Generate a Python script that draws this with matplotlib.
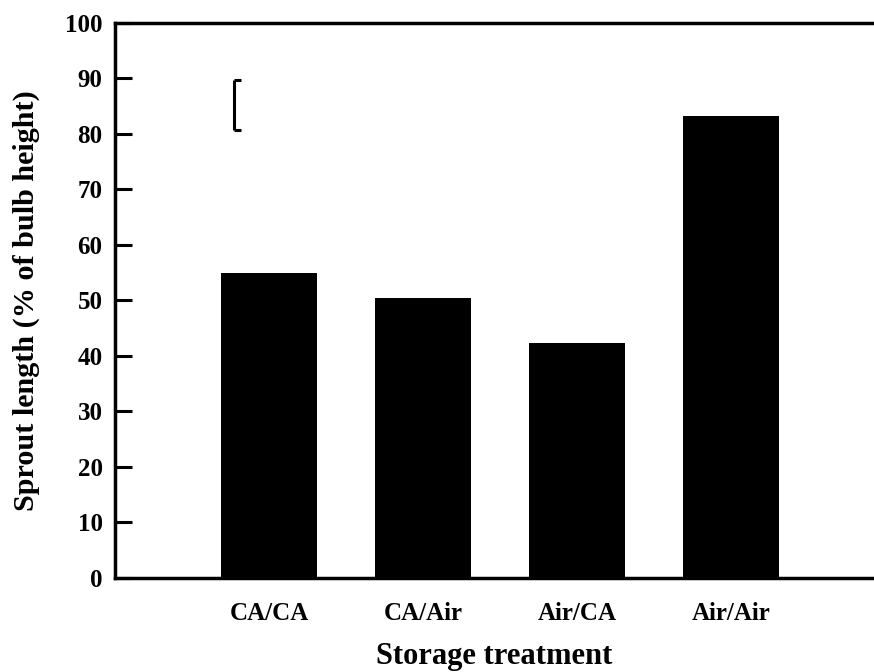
import matplotlib
matplotlib.use("Agg")
import matplotlib.pyplot as plt

categories = ["CA/CA", "CA/Air", "Air/CA", "Air/Air"]
sprout_length = [55.0, 50.5, 42.3, 83.2]
lsd_low, lsd_high = 80.7, 89.8
yticks = [0, 10, 20, 30, 40, 50, 60, 70, 80, 90, 100]

plt.rcParams["font.family"] = ["Liberation Serif", "DejaVu Serif"]
plt.rcParams["font.weight"] = "bold"

fig = plt.figure(figsize=(8.74, 6.72), dpi=100)
ax = fig.add_axes([0.1316, 0.1399, 0.8684, 0.8259])

x = list(range(1, len(categories) + 1))
ax.bar(x, sprout_length, width=0.62, color="black", edgecolor="none")

# LSD bracket
bx = 0.77
ax.plot([bx, bx], [lsd_low, lsd_high], color="black", lw=2.2, solid_capstyle="butt")
ax.plot([bx, bx + 0.05], [lsd_high, lsd_high], color="black", lw=2.2, solid_capstyle="butt")
ax.plot([bx, bx + 0.05], [lsd_low, lsd_low], color="black", lw=2.2, solid_capstyle="butt")

ax.set_xlim(0, 4.93)
ax.set_ylim(0, 100)
ax.set_yticks(yticks)
ax.set_yticklabels([str(t) for t in yticks], fontsize=18, fontweight="bold")
ax.set_xticks(x)
ax.set_xticklabels(categories, fontsize=18, fontweight="bold")
ax.tick_params(axis="y", direction="in", length=12, width=2.2, pad=9)
ax.tick_params(axis="x", length=0, pad=17)

for side in ("left", "bottom", "top"):
    ax.spines[side].set_linewidth(2.5)
ax.spines["right"].set_visible(False)

ax.set_ylabel("Sprout length (% of bulb height)", fontsize=21.7, fontweight="bold")
ax.yaxis.set_label_coords(-0.117, 0.5)
ax.set_xlabel("Storage treatment", fontsize=22, fontweight="bold")
ax.xaxis.set_label_coords(0.5, -0.141)
ax.xaxis.label.set_va("center")
ax.yaxis.label.set_va("center")

fig.savefig("out.png", dpi=100)
